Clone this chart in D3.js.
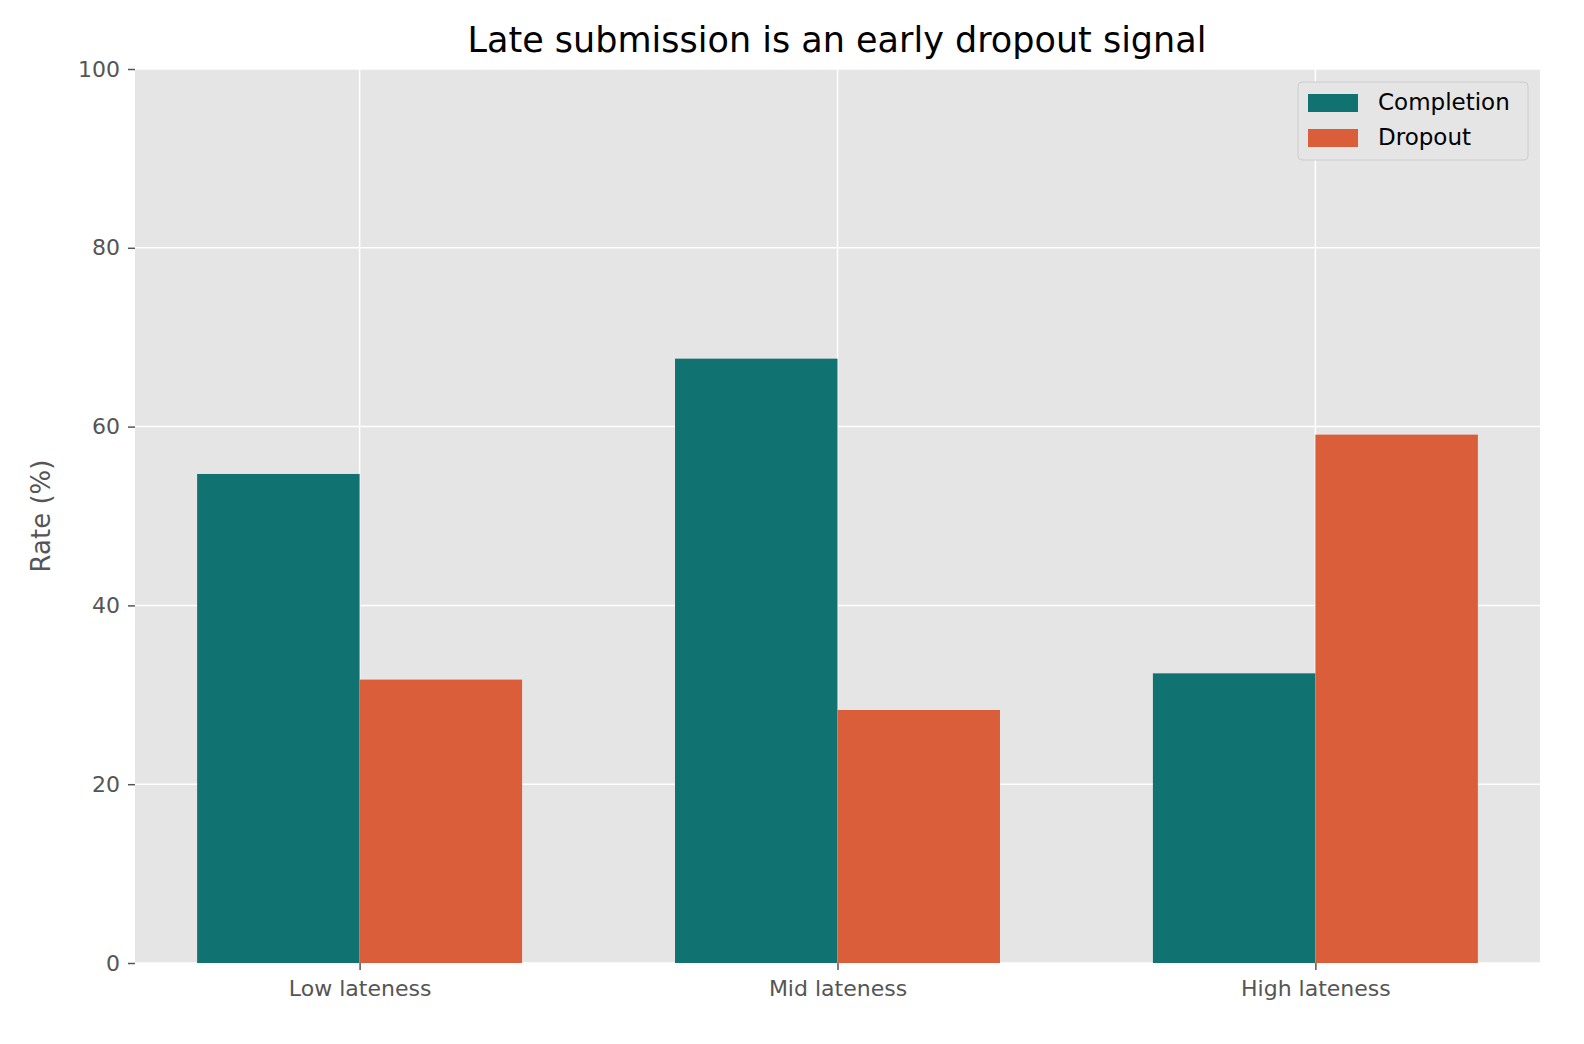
<!DOCTYPE html>
<html><head><meta charset="utf-8">
<script src="https://cdn.jsdelivr.net/npm/d3@7"></script>
<style>body{margin:0;background:#fff;font-family:"DejaVu Sans",sans-serif}</style>
</head><body><div id="chart"></div>
<script>
// data
const categories = ["Low lateness", "Mid lateness", "High lateness"];
const seriesNames = ["Completion", "Dropout"];
const completion = [54.7, 67.6, 32.4];
const dropout = [31.7, 28.3, 59.1];
const yTicks = [0, 20, 40, 60, 80, 100];

const width = 1584, height = 1044;
const m = {left: 135, right: 44, top: 69, bottom: 81};
const colors = ["#117272", "#db5e3a"];

const svg = d3.select("#chart").append("svg")
  .attr("width", width).attr("height", height);

const x = d3.scalePoint().domain(categories)
  .range([m.left, width - m.right]).padding(0.47);
const step = x.step();
const barW = step * 0.34;
const y = d3.scaleLinear().domain([0, 100]).range([height - m.bottom, m.top]);

svg.append("rect").attr("x", m.left).attr("y", m.top)
  .attr("width", width - m.left - m.right).attr("height", height - m.top - m.bottom)
  .attr("fill", "#e5e5e5");

// grid
svg.append("g").selectAll("line").data(yTicks).join("line")
  .attr("x1", m.left).attr("x2", width - m.right)
  .attr("y1", d => y(d)).attr("y2", d => y(d))
  .attr("stroke", "#fff").attr("stroke-width", 1.5);
svg.append("g").selectAll("line").data(categories).join("line")
  .attr("x1", d => x(d)).attr("x2", d => x(d))
  .attr("y1", m.top).attr("y2", height - m.bottom)
  .attr("stroke", "#fff").attr("stroke-width", 1.5);

// bars
[completion, dropout].forEach((vals, s) => {
  svg.append("g").selectAll("rect").data(vals).join("rect")
    .attr("x", (d, i) => x(categories[i]) + (s - 1) * barW)
    .attr("y", d => y(d))
    .attr("width", barW)
    .attr("height", d => y(0) - y(d))
    .attr("fill", colors[s]);
});

// axes
const yAxis = svg.append("g").attr("transform", `translate(${m.left},0)`)
  .call(d3.axisLeft(y).tickValues(yTicks).tickSize(7).tickPadding(8));
const xAxis = svg.append("g").attr("transform", `translate(0,${height - m.bottom})`)
  .call(d3.axisBottom(x).tickSize(7).tickPadding(10));
[yAxis, xAxis].forEach(a => {
  a.select(".domain").remove();
  a.selectAll(".tick line").attr("stroke", "#555").attr("stroke-width", 1.5);
  a.selectAll(".tick text").attr("fill", "#555")
    .style("font-family", "DejaVu Sans").style("font-size", "22px");
});

svg.append("text").attr("x", width / 2 + 45).attr("y", 52)
  .attr("text-anchor", "middle").style("font-size", "35px").attr("fill", "#000")
  .text("Late submission is an early dropout signal");

svg.append("text").attr("transform", `translate(50,${(m.top + height - m.bottom) / 2}) rotate(-90)`)
  .attr("text-anchor", "middle").style("font-size", "26px").attr("fill", "#555")
  .text("Rate (%)");

// legend
const lg = svg.append("g").attr("transform", "translate(1298,82)");
lg.append("rect").attr("width", 230).attr("height", 78).attr("rx", 4)
  .attr("fill", "#e5e5e5").attr("stroke", "#cccccc");
seriesNames.forEach((n, i) => {
  lg.append("rect").attr("x", 10).attr("y", 12 + i * 35).attr("width", 50).attr("height", 18)
    .attr("fill", colors[i]);
  lg.append("text").attr("x", 80).attr("y", 28 + i * 35)
    .style("font-size", "23px").attr("fill", "#000").text(n);
});
</script></body></html>
